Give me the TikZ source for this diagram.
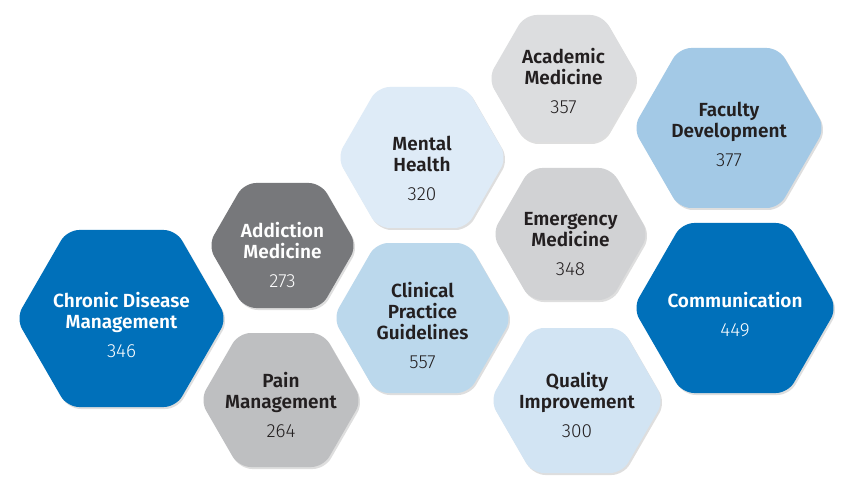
\documentclass[tikz,border=0pt]{standalone}
\usepackage{fontspec}
\usetikzlibrary{shadows}
\newfontfamily\titlef{Fira Sans SemiBold}
\newfontfamily\numf{Fira Sans Light}
\definecolor{cBlue}{HTML}{0070BA}
\definecolor{cGrayD}{HTML}{77787B}
\definecolor{cPain}{HTML}{BEBFC1}
\definecolor{cMental}{HTML}{DEEBF7}
\definecolor{cClin}{HTML}{BBD8EC}
\definecolor{cAcad}{HTML}{DCDDDF}
\definecolor{cEmerg}{HTML}{D1D2D4}
\definecolor{cQual}{HTML}{D2E4F3}
\definecolor{cFac}{HTML}{A3C9E6}
\definecolor{cText}{HTML}{231F20}
\tikzset{
  hexa/.style={rounded corners=12pt,
    drop shadow={shadow xshift=1.5pt, shadow yshift=-2pt, opacity=0.13, fill=black}},
  ttl/.style={align=center, inner sep=0pt, text=cText,
    font=\titlef\fontsize{19}{21}\selectfont},
  wt/.style={text=white},
}
\newcommand\nm[1]{\\[8pt]{\numf #1}}
% \hexa{cx}{cy}{half width}{half height}{colour}
\newcommand\hexa[5]{\fill[hexa, fill=#5]
  ({#1+#3},{#2}) -- ({#1+#3-0.577*#4},{#2-#4}) -- ({#1-#3+0.577*#4},{#2-#4}) --
  ({#1-#3},{#2}) -- ({#1-#3+0.577*#4},{#2+#4}) -- ({#1+#3-0.577*#4},{#2+#4}) -- cycle;}
\begin{document}
\begin{tikzpicture}[x=1pt,y=-1pt]
\fill[white] (0,0) rectangle (862,489);
\useasboundingbox (0,0) rectangle (862,489);
% hexagons
\hexa{121.5}{318.5}{105.5}{88.5}{cBlue}
\hexa{282.5}{245.5}{74.5}{62.5}{cGrayD}
\hexa{281}{400}{81}{67}{cPain}
\hexa{422}{157.5}{85}{70.5}{cMental}
\hexa{422.5}{318}{89.5}{75}{cClin}
\hexa{563.5}{78.5}{75.5}{63.5}{cAcad}
\hexa{570.5}{234}{78.5}{66}{cEmerg}
\hexa{577}{400.5}{87}{72.5}{cQual}
\hexa{729}{128}{96}{80}{cFac}
\hexa{735}{308}{102}{85}{cBlue}
% labels
\node[ttl, wt] (chronic) at (121.5,325) {Chronic Disease\\Management\nm{346}};
\node[ttl, wt] (addict)  at (282.5,255) {Addiction\\Medicine\nm{273}};
\node[ttl]     (pain)    at (281,405) {Pain\\Management\nm{264}};
\node[ttl]     (mental)  at (422,168) {Mental\\Health\nm{320}};
\node[ttl]     (clin)    at (422.5,325.5) {Clinical\\Practice\\Guidelines\nm{557}};
\node[ttl]     (acad)    at (563.5,81) {Academic\\Medicine\nm{357}};
\node[ttl]     (emerg)   at (570.5,244.5) {Emergency\\Medicine\nm{348}};
\node[ttl]     (qual)    at (577,404.5) {Quality\\Improvement\nm{300}};
\node[ttl]     (fac)     at (729,134.5) {Faculty\\Development\nm{377}};
\node[ttl, wt] (comm)    at (735,315) {Communication\nm{449}};
\end{tikzpicture}
\end{document}
